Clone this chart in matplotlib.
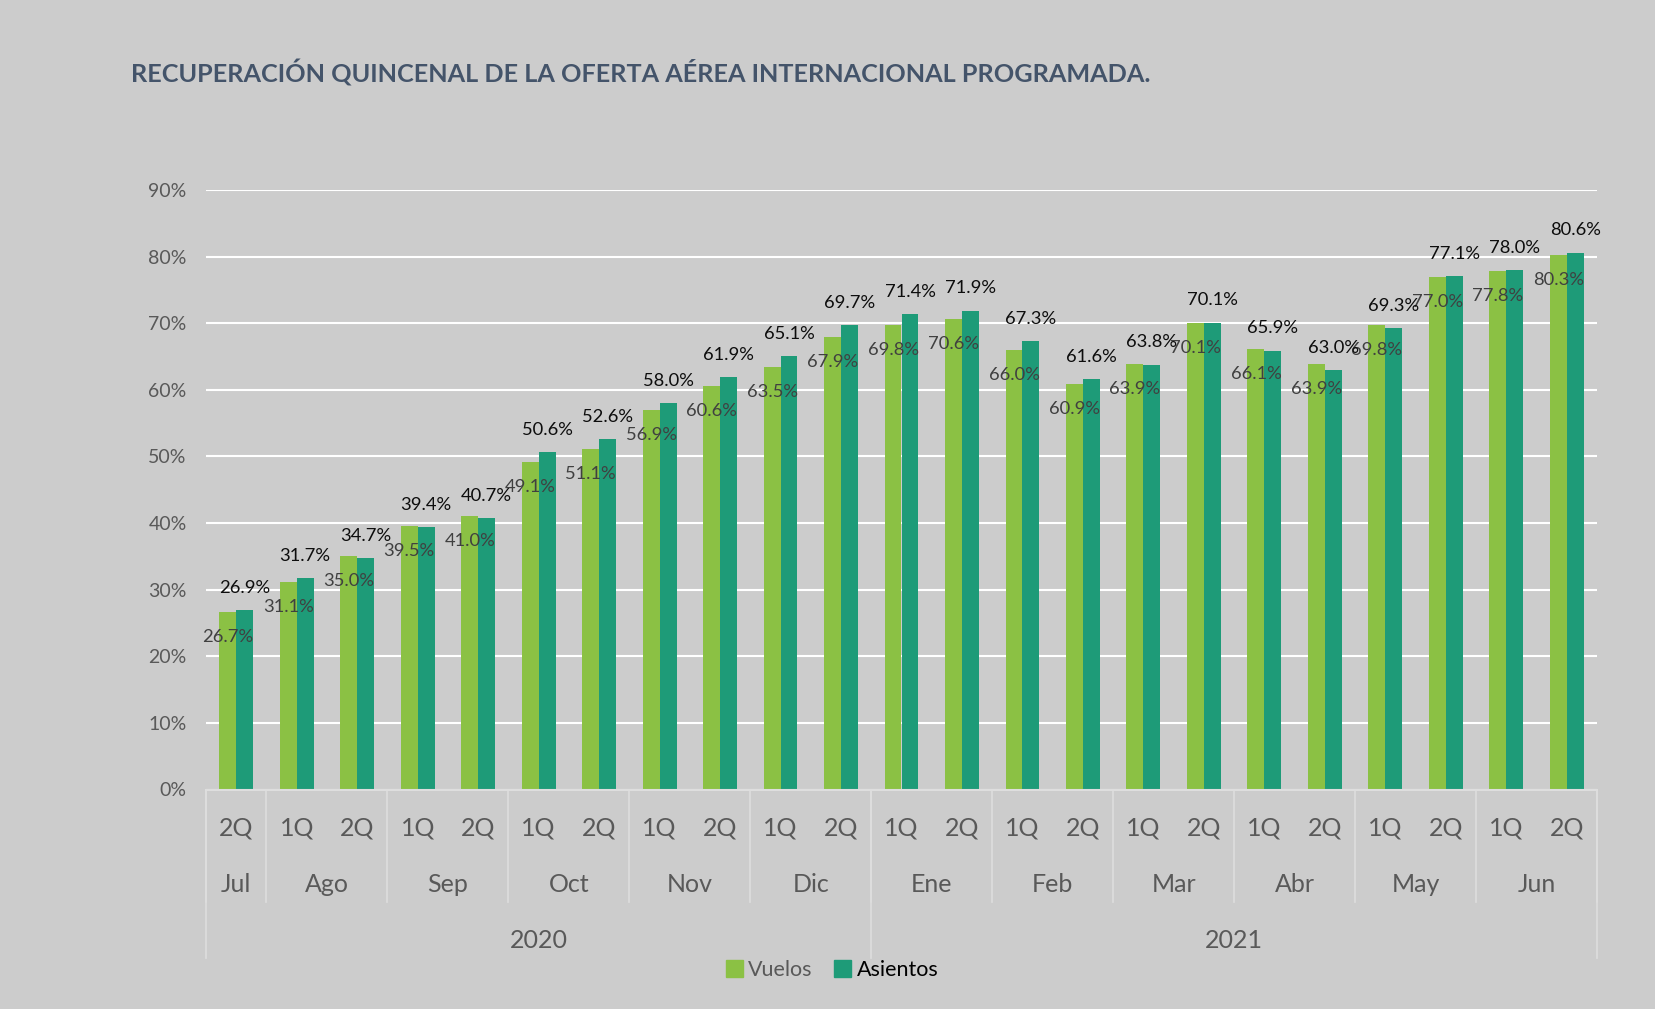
import numpy as np
import matplotlib.pyplot as plt
from matplotlib.patches import Patch

quincenas = ["2Q"] + ["1Q", "2Q"] * 11
meses = ["Jul", "Ago", "Sep", "Oct", "Nov", "Dic", "Ene", "Feb", "Mar", "Abr", "May", "Jun"]
meses_n = [1, 2, 2, 2, 2, 2, 2, 2, 2, 2, 2, 2]
anios = ["2020", "2021"]
anios_n = [11, 12]

vuelos = [26.7, 31.1, 35.0, 39.5, 41.0, 49.1, 51.1, 56.9, 60.6, 63.5, 67.9, 69.8,
          70.6, 66.0, 60.9, 63.9, 70.1, 66.1, 63.9, 69.8, 77.0, 77.8, 80.3]
asientos = [26.9, 31.7, 34.7, 39.4, 40.7, 50.6, 52.6, 58.0, 61.9, 65.1, 69.7, 71.4,
            71.9, 67.3, 61.6, 63.8, 70.1, 65.9, 63.0, 69.3, 77.1, 78.0, 80.6]

BG = "#CCCCCC"
VERDE = "#8BC144"
TEAL = "#1E9B78"
SEP = "#DEDEDE"

plt.rcParams['font.family'] = ['Lato', 'DejaVu Sans']

fig = plt.figure(figsize=(16.55, 10.09), dpi=100, facecolor=BG)
ax = fig.add_axes([206 / 1655, 1 - 789.5 / 1009, (1597 - 206) / 1655, 599.5 / 1009])
ax.set_facecolor(BG)

n = len(vuelos)
x = np.arange(n)
w = 0.28
b1 = ax.bar(x - w / 2, np.array(vuelos) / 100, w, color=VERDE, zorder=3)
b2 = ax.bar(x + w / 2, np.array(asientos) / 100, w, color=TEAL, zorder=3)

# etiquetas de datos
for rect, v in zip(b1, vuelos):
    ax.annotate(f"{v:.1f}%", (rect.get_x() + rect.get_width() / 2, v / 100),
                xytext=(0, -18), textcoords="offset points", ha="center", va="center",
                fontsize=13.2, color="#404040", zorder=5)
for rect, v in zip(b2, asientos):
    ax.annotate(f"{v:.1f}%", (rect.get_x() + rect.get_width() / 2, v / 100),
                xytext=(0, 16), textcoords="offset points", ha="center", va="center",
                fontsize=13.2, color="#0D0D0D", zorder=5)

ax.set_xlim(-0.5, n - 0.5)
ax.set_ylim(0, 0.9)
ax.set_yticks(np.arange(0, 0.91, 0.1))
ax.set_yticklabels([f"{int(round(t * 100))}%" for t in np.arange(0, 0.91, 0.1)],
                   fontsize=14, color="#595959")
ax.tick_params(axis="y", length=0, pad=14)
ax.set_xticks([])
ax.yaxis.grid(True, color="white", linewidth=1.5, zorder=0)
for s in ax.spines.values():
    s.set_visible(False)

# eje de categorias en varios niveles
tr = ax.get_xaxis_transform()
h = 599.5
y_q = -38.5 / h
y_m = -94.5 / h
y_a = -150.5 / h
y_msep = -112.5 / h
y_asep = -168.5 / h

ax.plot([-0.5, n - 0.5], [0, 0], transform=tr, color=SEP, lw=1.5, clip_on=False, zorder=4)
for i, q in enumerate(quincenas):
    ax.text(i, y_q, q, transform=tr, ha="center", va="center", fontsize=18, color="#595959")

pos = -0.5
bordes_mes = [pos]
for m, k in zip(meses, meses_n):
    ax.text(pos + k / 2, y_m, m, transform=tr, ha="center", va="center", fontsize=18, color="#595959")
    pos += k
    bordes_mes.append(pos)

pos = -0.5
bordes_anio = [pos]
for a, k in zip(anios, anios_n):
    ax.text(pos + k / 2, y_a, a, transform=tr, ha="center", va="center", fontsize=18, color="#595959")
    pos += k
    bordes_anio.append(pos)

for b in bordes_mes:
    ax.plot([b, b], [0, y_msep], transform=tr, color=SEP, lw=1.2, clip_on=False)
for b in bordes_anio:
    ax.plot([b, b], [0, y_asep], transform=tr, color=SEP, lw=1.2, clip_on=False)

fig.text(131 / 1655, 1 - 73 / 1009, "RECUPERACIÓN QUINCENAL DE LA OFERTA AÉREA INTERNACIONAL PROGRAMADA.",
         fontsize=18.2, fontweight="bold", color="#44546A", ha="left", va="center")

handles = [Patch(color=VERDE, label="Vuelos"), Patch(color=TEAL, label="Asientos")]
leg = fig.legend(handles=handles, loc="center", bbox_to_anchor=(832 / 1655, 1 - 970 / 1009),
                 ncol=2, frameon=False, fontsize=15.5, handlelength=0.8, handleheight=0.8,
                 handletextpad=0.25, columnspacing=1.0)
leg.get_texts()[0].set_color("#595959")
leg.get_texts()[1].set_color("#000000")

fig.savefig("out.png", dpi=100, facecolor=BG)
